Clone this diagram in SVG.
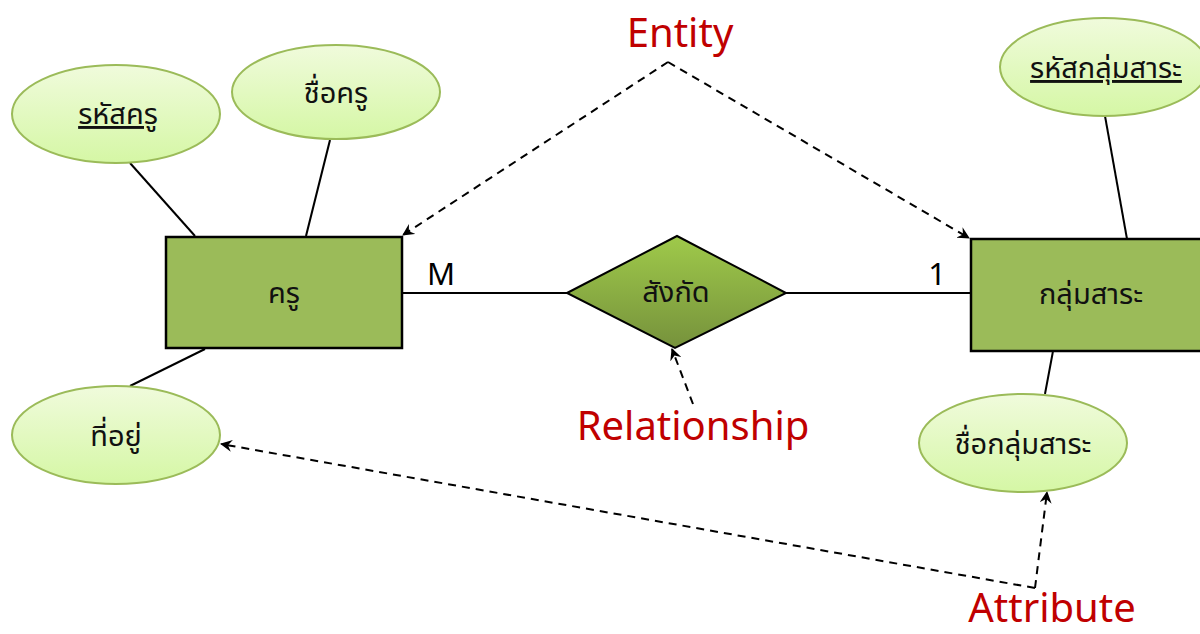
<svg xmlns="http://www.w3.org/2000/svg" width="1200" height="634" viewBox="0 0 1200 634">
<style>
.attr{stroke:#9bbb59;stroke-width:2;fill:url(#eg)}
.ent{fill:#9bbb59;stroke:#000;stroke-width:2.5}
.rel{fill:url(#dg);stroke:#000;stroke-width:2}
.th{font-family:"Noto Sans Thai","Noto Sans","DejaVu Sans",sans-serif;font-size:29px;fill:#111;text-anchor:middle}
.u{text-decoration:underline}
.lbl{font-family:"Noto Sans","Open Sans",sans-serif;font-size:40px;fill:#c00000;text-anchor:middle}
.card{font-family:"Noto Sans","Open Sans",sans-serif;font-size:31px;fill:#000;text-anchor:middle}
.ln{stroke:#000;stroke-width:2;fill:none}
.dash{stroke:#000;stroke-width:2;fill:none;stroke-dasharray:8 6}
</style>
<defs>
<linearGradient id="eg" x1="0" y1="0" x2="0" y2="1">
<stop offset="0" stop-color="#f0fbdc"/>
<stop offset="1" stop-color="#d5f7a5"/>
</linearGradient>
<linearGradient id="dg" x1="0" y1="0" x2="0" y2="1">
<stop offset="0" stop-color="#9fca4a"/>
<stop offset="1" stop-color="#76923c"/>
</linearGradient>
<marker id="ah" viewBox="0 0 12 12" refX="11" refY="6" markerWidth="12" markerHeight="12" markerUnits="userSpaceOnUse" orient="auto">
<path d="M0,0 L12,6 L0,12 L4,6 Z" fill="#000"/>
</marker>
</defs>
<rect width="1200" height="634" fill="#fff"/>
<g id="connectors">
<line class="ln" x1="130" y1="163" x2="195" y2="236"/>
<line class="ln" x1="330" y1="140" x2="306" y2="236"/>
<line class="ln" x1="205" y1="349" x2="130" y2="386"/>
<line class="ln" x1="402" y1="293" x2="567" y2="293"/>
<line class="ln" x1="786" y1="293" x2="971" y2="293"/>
<line class="ln" x1="1105" y1="116" x2="1127" y2="239"/>
<line class="ln" x1="1053" y1="351" x2="1045" y2="394"/>
<polyline class="dash" points="668,62 403,235" marker-end="url(#ah)"/>
<polyline class="dash" points="668,62 969,238" marker-end="url(#ah)"/>
<polyline class="dash" points="693,404 672,349" marker-end="url(#ah)"/>
<polyline class="dash" points="1035,588 221,444" marker-end="url(#ah)"/>
<polyline class="dash" points="1035,588 1047,492" marker-end="url(#ah)"/>
<text class="card" x="441" y="285">M</text>
<text class="card" x="937" y="285">1</text>
</g>
<g id="attr-rahatkru">
<ellipse class="attr" cx="116" cy="114" rx="104" ry="49"/>
<text class="th u" x="118" y="124">รหัสครู</text>
</g>
<g id="attr-chuekru">
<ellipse class="attr" cx="336" cy="92" rx="104" ry="47"/>
<text class="th" x="336" y="103">ชื่อครู</text>
</g>
<g id="attr-thiyu">
<ellipse class="attr" cx="116" cy="435" rx="104" ry="49"/>
<text class="th" x="116" y="446">ที่อยู่</text>
</g>
<g id="entity-kru">
<rect class="ent" x="166" y="237" width="236" height="111"/>
<text class="th" x="284" y="303">ครู</text>
</g>
<g id="rel-sangkat">
<polygon class="rel" points="567,293 677,236 786,293 675,348"/>
<text class="th" x="676" y="302">สังกัด</text>
</g>
<g id="entity-klumsara">
<rect class="ent" x="971" y="239" width="240" height="112"/>
<text class="th" x="1091" y="304">กลุ่มสาระ</text>
</g>
<g id="attr-rahatklum">
<ellipse class="attr" cx="1104" cy="67" rx="104" ry="49"/>
<text class="th u" x="1106" y="78">รหัสกลุ่มสาระ</text>
</g>
<g id="attr-chueklum">
<ellipse class="attr" cx="1023" cy="443" rx="104" ry="49"/>
<text class="th" x="1023" y="454">ชื่อกลุ่มสาระ</text>
</g>
<g id="labels">
<text class="lbl" x="680" y="47">Entity</text>
<text class="lbl" x="693" y="440">Relationship</text>
<text class="lbl" x="1052" y="622">Attribute</text>
</g>
</svg>
